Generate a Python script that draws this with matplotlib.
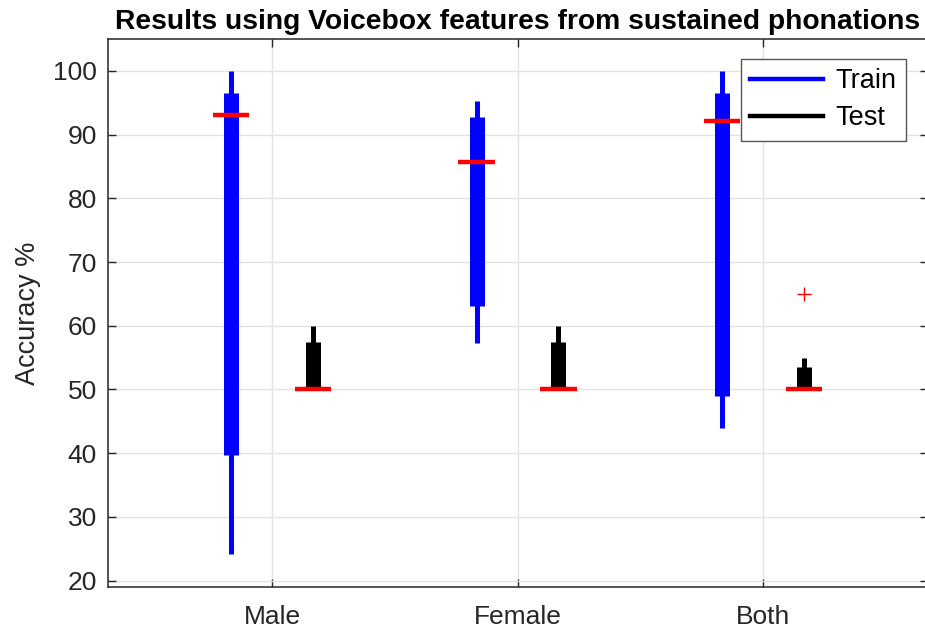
import numpy as np
import matplotlib.pyplot as plt
from matplotlib.lines import Line2D

plt.rcParams['font.family'] = ['Liberation Sans', 'DejaVu Sans']

groups = ['Male', 'Female', 'Both']

# compact box summaries: whisker low, q1, median, q3, whisker high
train_lo = [24.2, 57.3, 44.0]
train_q1 = [39.7, 63.1, 49.0]
train_med = [93.1, 85.7, 92.1]
train_q3 = [96.6, 92.8, 96.6]
train_hi = [100.0, 95.3, 100.0]

test_lo = [50.0, 50.0, 50.0]
test_q1 = [50.0, 50.0, 50.0]
test_med = [50.0, 50.0, 50.0]
test_q3 = [57.5, 57.5, 53.6]
test_hi = [60.0, 60.0, 55.0]

# outliers per group (test only)
test_out_x = [3]
test_out_y = [65.0]

fig = plt.figure(figsize=(9.25, 6.33), dpi=100)
W, H = 925, 633
ax = fig.add_axes([108 / W, (H - 587) / H, (928 - 108) / W, (587 - 39) / H])

x = np.arange(1, len(groups) + 1)
off = 1 / 6
med_half = 0.074


def compact_box(pos, lo, q1, med, q3, hi, color):
    ax.vlines(pos, lo, hi, color=color, lw=3.6, zorder=3)
    ax.vlines(pos, q1, q3, color=color, lw=10.8, zorder=3)
    ax.hlines(med, pos - med_half, pos + med_half, color='#ff0000', lw=3.2, zorder=4)


compact_box(x - off, train_lo, train_q1, train_med, train_q3, train_hi, '#0000ff')
compact_box(x + off, test_lo, test_q1, test_med, test_q3, test_hi, 'black')
ax.plot(np.array(test_out_x) + off, test_out_y, '+', color='#ff0000', ms=10, mew=1.0, zorder=4)

ax.set_xlim(1 - 0.668, 3 + 0.672)
ax.set_ylim(19, 105)
ax.set_xticks(x)
ax.set_xticklabels(groups)
ax.set_yticks(np.arange(20, 101, 10))
ax.grid(True, color='#e3e3e3', lw=1.0)
ax.set_axisbelow(True)

for s in ax.spines.values():
    s.set_color('#262626')
    s.set_linewidth(1.1)
ax.tick_params(direction='in', length=6, width=1.0, colors='#262626',
               labelsize=19, top=True, right=True, pad=8)
ax.tick_params(axis='x', pad=13)

ax.set_ylabel('Accuracy %', fontsize=19.5, color='#262626', labelpad=9)
ax.set_title('Results using Voicebox features from sustained phonations',
             fontsize=20.3, fontweight='bold', pad=7)

handles = [Line2D([], [], color='#0000ff', lw=3.2),
           Line2D([], [], color='black', lw=3.2)]
leg = ax.legend(handles, ['Train', 'Test'], loc='upper right', fontsize=19.5,
                bbox_to_anchor=(1 - 22 / 820, 1 - 20 / 548), borderaxespad=0,
                fancybox=False, framealpha=1, edgecolor='#555555',
                handlelength=2.7, handletextpad=0.45, borderpad=0.35, labelspacing=0.4)
leg.get_frame().set_linewidth(1.0)

fig.savefig('out.png', dpi=100)
